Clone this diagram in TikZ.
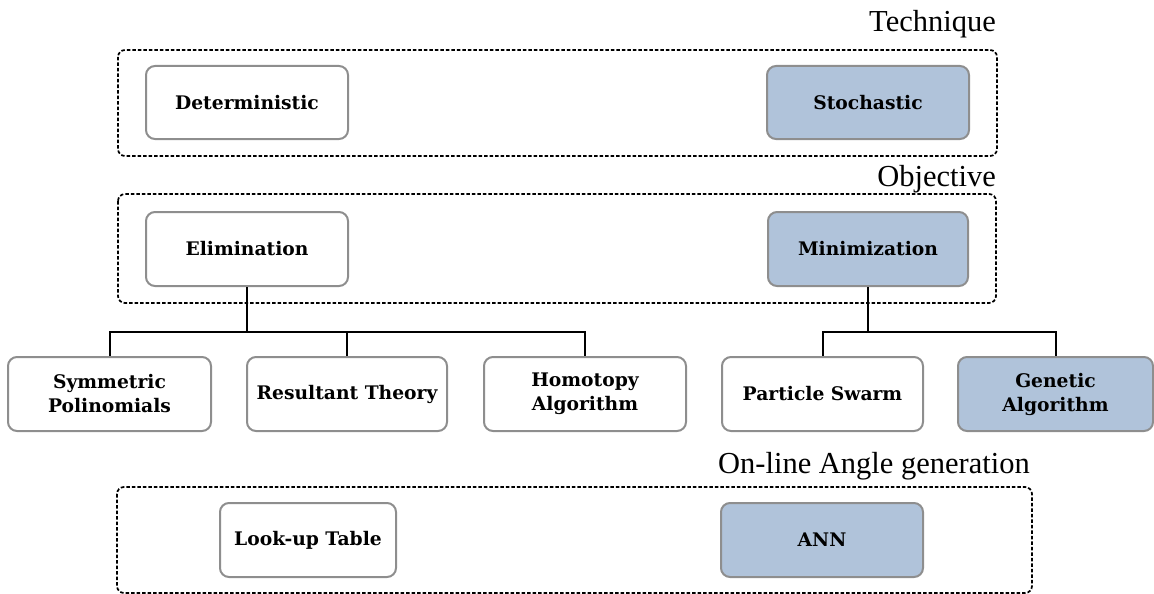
\documentclass[tikz,border=0pt]{standalone}
\usepackage{fontspec}
\setmainfont{Liberation Serif}
\newfontfamily\boxfont{DejaVu Serif}
\definecolor{boxblue}{HTML}{B0C3DA}
\definecolor{boxgray}{HTML}{8E8E8E}
\begin{document}
\begin{tikzpicture}[x=1pt,y=-1pt,
  grp/.style={draw=black,line width=1.7pt,dash pattern=on 3.5pt off 2pt,rounded corners=7pt},
  item/.style={draw=boxgray,line width=2pt,rounded corners=9pt,fill=white,
    font=\boxfont\fontsize{18.7}{24}\selectfont\bfseries,align=center,inner sep=0pt},
  hi/.style={item,fill=boxblue},
  lbl/.style={font=\fontsize{30.5}{34}\selectfont,anchor=base east,inner sep=0pt},
  conn/.style={draw=black,line width=2pt}]
\useasboundingbox (0,0) rectangle (1154,594);
% group frames
\draw[grp] (118,50) rectangle (997,156);
\draw[grp] (118,194) rectangle (996,303);
\draw[grp] (117,487) rectangle (1032,593);
% group labels
\node[lbl] (ltech) at (996,32) {Technique};
\node[lbl] (lobj) at (996,186) {Objective};
\node[lbl] (lon) at (1030,473) {On-line Angle generation};
% technique
\node[item,minimum width=202pt,minimum height=73pt] (det) at (247,102.5) {Deterministic};
\node[hi,minimum width=202pt,minimum height=73pt] (sto) at (868,102.5) {Stochastic};
% objective
\node[item,minimum width=202pt,minimum height=74pt] (elim) at (247,249) {Elimination};
\node[hi,minimum width=200pt,minimum height=74pt] (mini) at (868,249) {Minimization};
% methods
\node[item,minimum width=203pt,minimum height=74pt] (sym) at (109.5,394) {Symmetric\\Polinomials};
\node[item,minimum width=200pt,minimum height=74pt] (res) at (347,394) {Resultant Theory};
\node[item,minimum width=202pt,minimum height=74pt] (hom) at (585,394) {Homotopy\\Algorithm};
\node[item,minimum width=201pt,minimum height=74pt] (pso) at (822.5,394) {Particle Swarm};
\node[hi,minimum width=195pt,minimum height=74pt] (gen) at (1055.5,394) {Genetic\\Algorithm};
% on-line
\node[item,minimum width=176pt,minimum height=74pt] (lut) at (308,540) {Look-up Table};
\node[hi,minimum width=202pt,minimum height=74pt] (ann) at (822,540) {ANN};
% connectors
\coordinate (ej) at (247,332);
\coordinate (mj) at (868,332);
\draw[conn] (elim.south) -- (ej);
\draw[conn] (ej) -| (sym.north);
\draw[conn] (ej) -| (res.north);
\draw[conn] (ej) -| (hom.north);
\draw[conn] (mini.south) -- (mj);
\draw[conn] (mj) -| (pso.north);
\draw[conn] (mj) -| (gen.north);
\end{tikzpicture}
\end{document}
